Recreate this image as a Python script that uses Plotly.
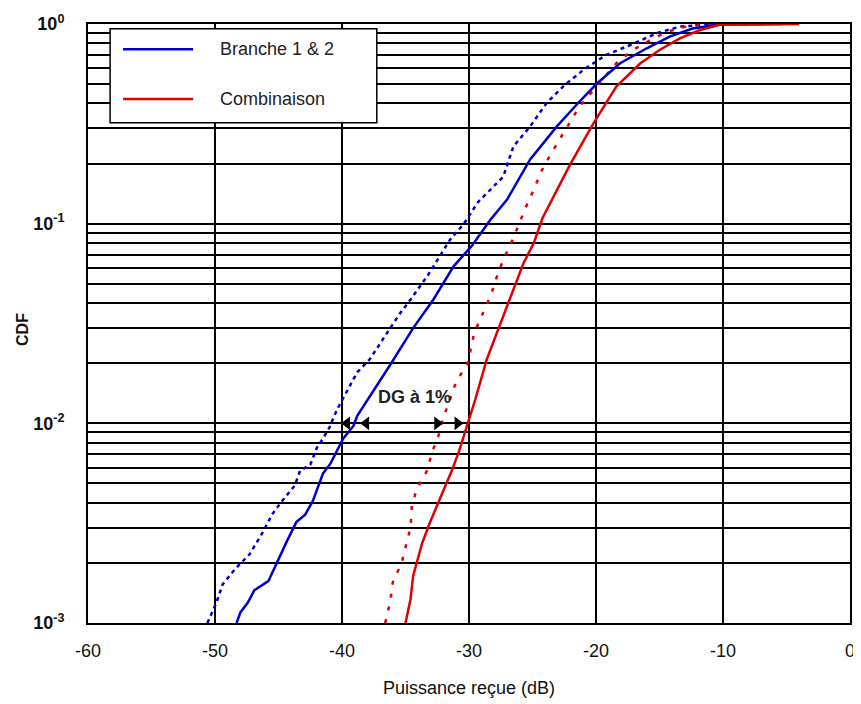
import plotly.graph_objects as go

# ---------------- data ----------------
b1_x = [-48.3, -48.0, -47.4, -46.9, -45.8, -45.3, -44.4, -43.6, -42.9, -42.3, -41.9, -41.5,
        -40.9, -40.4, -39.9, -39.1, -38.8, -36.1, -34.4, -32.8, -31.2, -29.8, -28.3, -27.0,
        -25.2, -23.1, -21.3, -19.9, -18.1, -16.0, -14.2, -12.4, -10.2, -5.3]
b1_p = [0.001, 0.00113, 0.00127, 0.00146, 0.00162, 0.0019, 0.00252, 0.0032, 0.00349, 0.00408,
        0.00478, 0.0056, 0.0063, 0.0073, 0.0084, 0.0097, 0.0109, 0.0201, 0.030, 0.0417, 0.0613,
        0.0772, 0.105, 0.132, 0.209, 0.306, 0.409, 0.505, 0.636, 0.756, 0.864, 0.95, 0.995, 1.0]

b2_x = [-50.6, -49.9, -49.4, -48.4, -47.3, -46.3, -45.5, -44.7, -43.7, -43.3, -42.5, -42.0,
        -41.5, -41.0, -40.4, -38.8, -37.8, -37.0, -36.2, -35.4, -34.6, -33.3, -32.5, -31.5,
        -30.4, -29.3, -27.3, -26.5, -25.2, -23.9, -22.6, -21.0, -19.2, -17.3, -15.2, -13.4,
        -10.8, -8.0]
b2_p = [0.001, 0.00126, 0.00156, 0.00187, 0.0022, 0.0028, 0.0035, 0.0041, 0.0049, 0.0058,
        0.0062, 0.0075, 0.0084, 0.0095, 0.0117, 0.018, 0.021, 0.0253, 0.030, 0.0358, 0.0417,
        0.0544, 0.066, 0.083, 0.10, 0.128, 0.172, 0.244, 0.306, 0.401, 0.486, 0.589, 0.70,
        0.785, 0.90, 0.97, 0.998, 1.0]

c1_x = [-35.0, -34.6, -34.4, -34.0, -33.7, -33.1, -32.5, -32.0, -31.4, -30.8, -30.3, -29.9,
        -29.5, -28.6, -27.6, -26.5, -25.7, -24.9, -24.2, -22.0, -20.2, -18.4, -16.5, -15.0,
        -13.4, -11.8, -10.2, -4.0]
c1_p = [0.001, 0.00132, 0.00172, 0.00216, 0.0025, 0.00316, 0.00388, 0.00468, 0.0057, 0.0072,
        0.009, 0.0108, 0.0132, 0.0209, 0.0306, 0.047, 0.0636, 0.0799, 0.107, 0.2, 0.318,
        0.486, 0.636, 0.741, 0.848, 0.933, 0.995, 1.0]

c2_x = [-36.6, -36.2, -36.0, -35.3, -35.0, -34.6, -34.5, -34.1, -33.3, -32.9, -32.4, -32.1,
        -31.5, -31.0, -30.1, -29.6, -28.9, -28.3, -27.8, -27.3, -26.6, -26.1, -25.5, -24.9,
        -24.3, -23.6, -22.8, -22.1, -21.3, -20.3, -19.4, -18.4, -17.1, -15.7, -14.4, -12.9,
        -11.6, -9.0]
c2_p = [0.001, 0.00128, 0.0016, 0.002, 0.0024, 0.003, 0.0039, 0.0047, 0.0058, 0.0072, 0.0087,
        0.0103, 0.0132, 0.0162, 0.020, 0.0283, 0.0357, 0.0434, 0.0544, 0.066, 0.082, 0.099,
        0.122, 0.148, 0.183, 0.221, 0.268, 0.318, 0.386, 0.459, 0.535, 0.636, 0.741, 0.832,
        0.915, 0.97, 0.998, 1.0]

x_ticks = [-60, -50, -40, -30, -20, -10, 0]
y_decades = [1e-3, 1e-2, 1e-1, 1.0]
y_decade_labels = ["10<sup>-3</sup>", "10<sup>-2</sup>", "10<sup>-1</sup>", "10<sup>0</sup>"]

legend_names = ["Branche 1 & 2", "Combinaison"]
dg_text = "DG à 1%"
dg_level = 0.01
dg_left_x = [-39.6, -38.1]
dg_right_x = [-32.5, -30.9]

BLUE = "#0000CD"
RED = "#E00000"
FONT = "Liberation Sans, Arial, sans-serif"

# minor log grid positions 2..9 x decade
y_minor = []
for d in y_decades[:-1]:
    for k in range(2, 10):
        y_minor.append(d * k)

fig = go.Figure()
fig.add_trace(go.Scatter(x=b2_x, y=b2_p, mode="lines", showlegend=False,
                         line=dict(color=BLUE, width=2.5, dash="4px,4px")))
fig.add_trace(go.Scatter(x=c2_x, y=c2_p, mode="lines", showlegend=False,
                         line=dict(color=RED, width=2.5, dash="4px,9px")))
fig.add_trace(go.Scatter(x=b1_x, y=b1_p, mode="lines", showlegend=False,
                         line=dict(color=BLUE, width=2.5)))
fig.add_trace(go.Scatter(x=c1_x, y=c1_p, mode="lines", showlegend=False,
                         line=dict(color=RED, width=2.5)))
# DG arrows
fig.add_trace(go.Scatter(x=dg_left_x, y=[dg_level] * len(dg_left_x), mode="markers",
                         showlegend=False,
                         marker=dict(symbol="triangle-left", size=12, color="black")))
fig.add_trace(go.Scatter(x=dg_right_x, y=[dg_level] * len(dg_right_x), mode="markers",
                         showlegend=False,
                         marker=dict(symbol="triangle-right", size=12, color="black")))

fig.add_annotation(x=-34.3, y=-1.87, xref="x", yref="y", text="<b>" + dg_text + "</b>",
                   showarrow=False, font=dict(family=FONT, size=18, color="#222"))

# manual legend
fig.add_shape(type="rect", xref="paper", yref="paper", x0=0.029, x1=0.379, y0=0.835, y1=0.992,
              line=dict(color="black", width=1.5), fillcolor="white", layer="above")
for i, (name, col) in enumerate(zip(legend_names, [BLUE, RED])):
    yy = 0.958 - i * 0.083
    fig.add_shape(type="line", xref="paper", yref="paper", x0=0.046, x1=0.138, y0=yy, y1=yy,
                  line=dict(color=col, width=2.5), layer="above")
    fig.add_annotation(xref="paper", yref="paper", x=0.171, y=yy, xanchor="left", yanchor="middle",
                       text=name, showarrow=False, font=dict(family=FONT, size=18, color="#222"))

# axis titles as annotations for exact placement
fig.add_annotation(xref="paper", yref="paper", x=0.5, y=-0.108, yanchor="middle",
                   text="Puissance reçue (dB)", showarrow=False,
                   font=dict(family=FONT, size=18, color="#111"))
fig.add_annotation(xref="paper", yref="paper", x=-0.086, y=0.49, xanchor="center",
                   text="<b>CDF</b>", textangle=-90, showarrow=False,
                   font=dict(family=FONT, size=16, color="#111"))

# the page body has an 8px margin: compensate so the plot area lands where the reference has it
fig.update_layout(
    width=853, height=696,
    margin=dict(l=80, r=11, t=16, b=81),
    paper_bgcolor="white", plot_bgcolor="white",
    font=dict(family=FONT, color="#111"),
    showlegend=False,
)
fig.update_xaxes(range=[-60, 0], tickvals=x_ticks, ticktext=[str(v) for v in x_ticks],
                 showgrid=True, gridcolor="black", gridwidth=1.5, zeroline=False,
                 showline=True, linecolor="black", linewidth=2, mirror=True,
                 ticks="outside", ticklen=10, tickcolor="rgba(0,0,0,0)",
                 tickfont=dict(size=18, family=FONT), automargin=False)
fig.update_yaxes(type="log", range=[-3, 0], tickvals=y_decades,
                 ticktext=["<b>" + t + "</b>" for t in y_decade_labels],
                 minor=dict(tickmode="array", tickvals=y_minor, showgrid=True,
                            gridcolor="black", gridwidth=1.5, ticks=""),
                 showgrid=True, gridcolor="black", gridwidth=1.5, zeroline=False,
                 showline=True, linecolor="black", linewidth=2, mirror=True,
                 ticks="outside", ticklen=18, tickcolor="rgba(0,0,0,0)",
                 tickfont=dict(size=18, family=FONT), automargin=False)

fig.write_html("out.html")
